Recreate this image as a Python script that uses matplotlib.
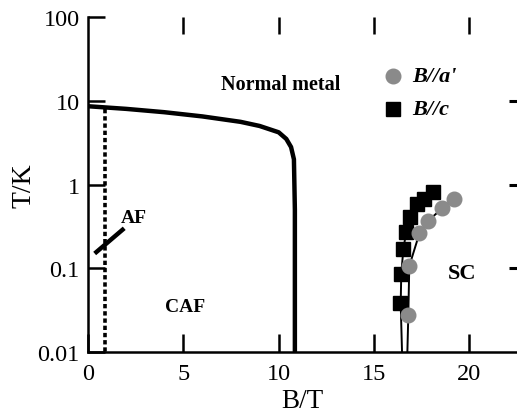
import matplotlib
matplotlib.use("Agg")
import matplotlib.pyplot as plt
from matplotlib.ticker import FixedLocator, NullLocator, FixedFormatter

plt.rcParams["font.family"] = ["Liberation Serif", "DejaVu Serif"]

# Phase boundary of the canted antiferromagnet (CAF) / normal metal
caf_B = [0.0, 2.0, 4.0, 6.0, 8.0, 9.0, 10.0, 10.4, 10.65, 10.8, 10.85, 10.85]
caf_T = [8.6, 8.0, 7.3, 6.5, 5.6, 5.0, 4.2, 3.5, 2.8, 2.0, 0.5, 0.01]

# AF / CAF boundary (dotted vertical)
af_B = [0.9, 0.9]
af_T = [8.0, 0.01]

# Short AF pointer line
af_line_B = [0.35, 1.9]
af_line_T = [0.15, 0.30]

# Superconducting onset, B // c
c_B = [16.38, 16.43, 16.54, 16.69, 16.90, 17.27, 17.64, 18.11]
c_T = [0.038, 0.085, 0.17, 0.27, 0.41, 0.58, 0.68, 0.81]
c_fit_B = [16.47, 16.40, 16.43, 16.54, 16.69, 16.90, 17.27, 17.64, 18.11]
c_fit_T = [0.01, 0.038, 0.085, 0.17, 0.27, 0.41, 0.58, 0.68, 0.81]

# Superconducting onset, B // a'
a_B = [16.80, 16.85, 17.38, 17.85, 18.58, 19.21]
a_T = [0.028, 0.106, 0.26, 0.37, 0.52, 0.68]
a_fit_B = [16.75, 16.80, 16.85, 17.38, 17.85, 18.58, 19.21]
a_fit_T = [0.01, 0.028, 0.106, 0.26, 0.37, 0.52, 0.68]

x_ticks = [0, 5, 10, 15, 20]
y_ticks = [0.01, 0.1, 1, 10, 100]
y_labels = ["0.01", "0.1", "1", "10", "100"]

fig = plt.figure(figsize=(5.17, 4.14), dpi=100)
ax = fig.add_axes([88 / 517, 61 / 414, 429 / 517, 335 / 414])

ax.set_yscale("log")
ax.set_xlim(0, 22.5)
ax.set_ylim(0.01, 100)

ax.plot(caf_B, caf_T, color="black", lw=3.2, solid_capstyle="butt", solid_joinstyle="round")
ax.plot(af_B, af_T, color="black", lw=2.6, linestyle=(0, (1.2, 0.8)))
ax.plot(af_line_B, af_line_T, color="black", lw=3.2, solid_capstyle="butt")

ax.plot(c_fit_B, c_fit_T, color="black", lw=1.4)
ax.plot(a_fit_B, a_fit_T, color="black", lw=1.4)
ax.plot(c_B, c_T, linestyle="none", marker="s", markersize=9.5, color="black")
ax.plot(a_B, a_T, linestyle="none", marker="o", markersize=10.5, color="#8a8a8a",
        markeredgecolor="#8a8a8a")

# legend drawn by hand
ax.plot([16.0], [19.6], marker="o", markersize=10.5, color="#8a8a8a", linestyle="none")
ax.plot([16.0], [8.0], marker="s", markersize=9.5, color="black", linestyle="none")
ax.text(17.0, 19.6, "B//a'", fontsize=16, fontweight="bold", fontstyle="italic", va="center")
ax.text(17.0, 8.0, "B//c", fontsize=16, fontweight="bold", fontstyle="italic", va="center")

ax.text(10.1, 16.0, "Normal metal", fontsize=14.5, fontweight="bold", ha="center", va="center")
ax.text(2.4, 0.40, "AF", fontsize=14, fontweight="bold", ha="center", va="center")
ax.text(5.1, 0.035, "CAF", fontsize=14, fontweight="bold", ha="center", va="center")
ax.text(19.6, 0.088, "SC", fontsize=16, fontweight="bold", ha="center", va="center")

for s in ("top", "right"):
    ax.spines[s].set_visible(False)
for s in ("left", "bottom"):
    ax.spines[s].set_linewidth(1.8)

ax.xaxis.set_major_locator(FixedLocator(x_ticks))
ax.yaxis.set_major_locator(FixedLocator(y_ticks))
ax.yaxis.set_major_formatter(FixedFormatter(y_labels))
ax.yaxis.set_minor_locator(NullLocator())
ax.tick_params(axis="y", direction="in", length=12, width=1.8, labelsize=17.5, pad=6)
ax.tick_params(axis="x", direction="in", length=13, width=1.8, labelsize=17.5, pad=8)

# extra tick marks along the top and right edges
top = ax.secondary_xaxis("top")
top.set_xticks([5, 10, 15, 20])
top.tick_params(direction="in", length=12, width=1.8, labeltop=False)
top.spines["top"].set_visible(False)

right = ax.secondary_yaxis("right")
right.set_yticks([0.1, 1, 10])
right.yaxis.set_minor_locator(NullLocator())
right.tick_params(direction="in", length=6, width=2.2, labelright=False)
right.spines["right"].set_visible(False)

ax.set_xlabel("B/T", fontsize=19.5, labelpad=3)
ax.set_ylabel("T/K", fontsize=20, labelpad=1)

fig.savefig("out.png", dpi=100)
